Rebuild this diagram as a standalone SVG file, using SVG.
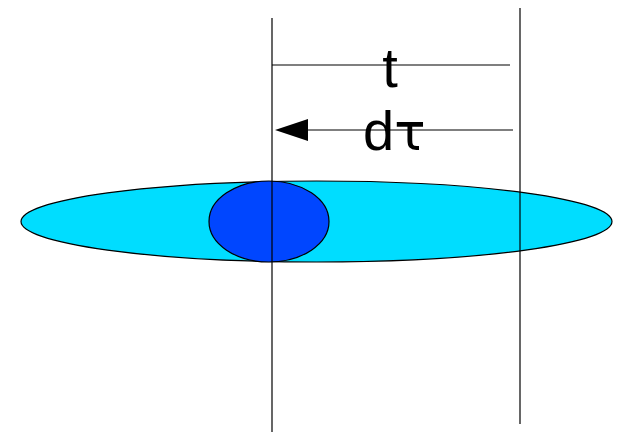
<svg xmlns="http://www.w3.org/2000/svg" width="622" height="432" viewBox="0 0 622 432">
<style>
.ln{stroke:#000;stroke-width:1.2;fill:none}
.lbl{font-family:"Liberation Sans",Arial,sans-serif;font-size:56px;fill:#000}
.tau{font-family:"DejaVu Sans",sans-serif;font-size:52px}
</style>
<rect width="622" height="432" fill="#fff"/>
<g id="outer-ellipse"><ellipse cx="316.5" cy="221.5" rx="295.5" ry="40.5" fill="#00DDFF" stroke="#000" stroke-width="1.2"/></g>
<g id="inner-ellipse"><ellipse cx="269" cy="221.5" rx="60" ry="40.5" fill="#0046FF" stroke="#000" stroke-width="1.2"/></g>
<g id="connectors">
<line class="ln" x1="272" y1="18" x2="272" y2="432"/>
<line class="ln" x1="520" y1="8" x2="520" y2="424" stroke="#444"/>
<line class="ln" x1="272" y1="65" x2="510" y2="65"/>
<line class="ln" x1="513" y1="130" x2="305" y2="130"/>
<path d="M275,130 L308,119 L308,141 Z" fill="#000"/>
</g>
<g id="labels">
<text class="lbl" x="390" y="87" text-anchor="middle">t</text>
<text class="lbl" x="363" y="150">d<tspan class="tau">τ</tspan></text>
</g>
</svg>
